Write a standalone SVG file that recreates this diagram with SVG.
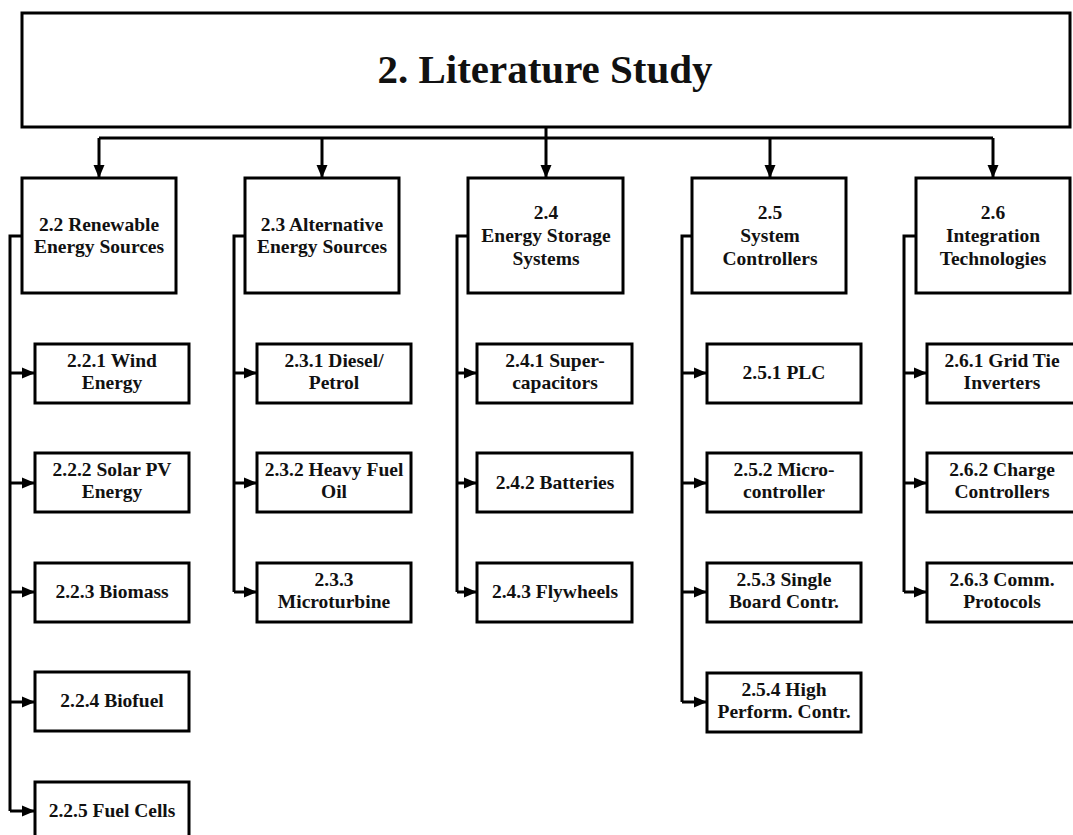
<svg xmlns="http://www.w3.org/2000/svg" width="1073" height="835" viewBox="0 0 1073 835">
<style>
.box{fill:#fff;stroke:#000;stroke-width:3}
.ln{fill:none;stroke:#000;stroke-width:3}
text{font-family:"Liberation Serif","Times New Roman",serif;font-weight:bold;fill:#111;text-anchor:middle}
.t{font-size:19.5px}
.title{font-size:41px}
</style>
<defs>
<marker id="ah" markerUnits="userSpaceOnUse" markerWidth="13" markerHeight="12" viewBox="0 0 13 12" refX="13" refY="6" orient="auto">
<path d="M0,0.5 L13,6 L0,11.5 Z" fill="#000"/>
</marker>
</defs>
<rect width="1073" height="835" fill="#fff"/>
<g id="connectors">
<path class="ln" d="M546,127 V138 M99,138 H993"/>
<path class="ln" d="M99,138 V178" marker-end="url(#ah)"/>
<path class="ln" d="M322,138 V178" marker-end="url(#ah)"/>
<path class="ln" d="M546,138 V178" marker-end="url(#ah)"/>
<path class="ln" d="M770,138 V178" marker-end="url(#ah)"/>
<path class="ln" d="M993,138 V178" marker-end="url(#ah)"/>
<path class="ln" d="M22,236 H10 V811"/>
<path class="ln" d="M10,373 H35" marker-end="url(#ah)"/>
<path class="ln" d="M10,483 H35" marker-end="url(#ah)"/>
<path class="ln" d="M10,592 H35" marker-end="url(#ah)"/>
<path class="ln" d="M10,702 H35" marker-end="url(#ah)"/>
<path class="ln" d="M10,811 H35" marker-end="url(#ah)"/>
<path class="ln" d="M245,236 H234 V592"/>
<path class="ln" d="M234,373 H257" marker-end="url(#ah)"/>
<path class="ln" d="M234,483 H257" marker-end="url(#ah)"/>
<path class="ln" d="M234,592 H257" marker-end="url(#ah)"/>
<path class="ln" d="M468,236 H457 V592"/>
<path class="ln" d="M457,373 H477" marker-end="url(#ah)"/>
<path class="ln" d="M457,483 H477" marker-end="url(#ah)"/>
<path class="ln" d="M457,592 H477" marker-end="url(#ah)"/>
<path class="ln" d="M692,236 H682 V702"/>
<path class="ln" d="M682,373 H707" marker-end="url(#ah)"/>
<path class="ln" d="M682,483 H707" marker-end="url(#ah)"/>
<path class="ln" d="M682,592 H707" marker-end="url(#ah)"/>
<path class="ln" d="M682,702 H707" marker-end="url(#ah)"/>
<path class="ln" d="M916,236 H904 V592"/>
<path class="ln" d="M904,373 H927" marker-end="url(#ah)"/>
<path class="ln" d="M904,483 H927" marker-end="url(#ah)"/>
<path class="ln" d="M904,592 H927" marker-end="url(#ah)"/>
</g>
<g id="n_root"><rect class="box" x="22" y="13" width="1048" height="114"/><text class="title" x="545" y="83">2. Literature Study</text></g>
<g id="n_2_2"><rect class="box" x="22" y="178" width="154" height="115"/><text class="t" x="99" y="231">2.2 Renewable</text><text class="t" x="99" y="253">Energy Sources</text></g>
<g id="n_2_3"><rect class="box" x="245" y="178" width="154" height="115"/><text class="t" x="322" y="231">2.3 Alternative</text><text class="t" x="322" y="253">Energy Sources</text></g>
<g id="n_2_4"><rect class="box" x="468" y="178" width="155" height="115"/><text class="t" x="546" y="219">2.4</text><text class="t" x="546" y="242">Energy Storage</text><text class="t" x="546" y="265">Systems</text></g>
<g id="n_2_5"><rect class="box" x="692" y="178" width="154" height="115"/><text class="t" x="770" y="219">2.5</text><text class="t" x="770" y="242">System</text><text class="t" x="770" y="265">Controllers</text></g>
<g id="n_2_6"><rect class="box" x="916" y="178" width="154" height="115"/><text class="t" x="993" y="219">2.6</text><text class="t" x="993" y="242">Integration</text><text class="t" x="993" y="265">Technologies</text></g>
<g id="n_2_2_1"><rect class="box" x="35" y="344" width="154" height="59"/><text class="t" x="112" y="367">2.2.1 Wind</text><text class="t" x="112" y="389">Energy</text></g>
<g id="n_2_2_2"><rect class="box" x="35" y="453" width="154" height="59"/><text class="t" x="112" y="476">2.2.2 Solar PV</text><text class="t" x="112" y="498">Energy</text></g>
<g id="n_2_2_3"><rect class="box" x="35" y="563" width="154" height="59"/><text class="t" x="112" y="598">2.2.3 Biomass</text></g>
<g id="n_2_2_4"><rect class="box" x="35" y="672" width="154" height="59"/><text class="t" x="112" y="707">2.2.4 Biofuel</text></g>
<g id="n_2_2_5"><rect class="box" x="35" y="782" width="154" height="59"/><text class="t" x="112" y="817">2.2.5 Fuel Cells</text></g>
<g id="n_2_3_1"><rect class="box" x="257" y="344" width="154" height="59"/><text class="t" x="334" y="367">2.3.1 Diesel/</text><text class="t" x="334" y="389">Petrol</text></g>
<g id="n_2_3_2"><rect class="box" x="257" y="453" width="154" height="59"/><text class="t" x="334" y="476">2.3.2 Heavy Fuel</text><text class="t" x="334" y="498">Oil</text></g>
<g id="n_2_3_3"><rect class="box" x="257" y="563" width="154" height="59"/><text class="t" x="334" y="586">2.3.3</text><text class="t" x="334" y="608">Microturbine</text></g>
<g id="n_2_4_1"><rect class="box" x="477" y="344" width="155" height="59"/><text class="t" x="555" y="367">2.4.1 Super-</text><text class="t" x="555" y="389">capacitors</text></g>
<g id="n_2_4_2"><rect class="box" x="477" y="453" width="155" height="59"/><text class="t" x="555" y="489">2.4.2 Batteries</text></g>
<g id="n_2_4_3"><rect class="box" x="477" y="563" width="155" height="59"/><text class="t" x="555" y="598">2.4.3 Flywheels</text></g>
<g id="n_2_5_1"><rect class="box" x="707" y="344" width="154" height="59"/><text class="t" x="784" y="379">2.5.1 PLC</text></g>
<g id="n_2_5_2"><rect class="box" x="707" y="453" width="154" height="59"/><text class="t" x="784" y="476">2.5.2 Micro-</text><text class="t" x="784" y="498">controller</text></g>
<g id="n_2_5_3"><rect class="box" x="707" y="563" width="154" height="59"/><text class="t" x="784" y="586">2.5.3 Single</text><text class="t" x="784" y="608">Board Contr.</text></g>
<g id="n_2_5_4"><rect class="box" x="707" y="673" width="154" height="59"/><text class="t" x="784" y="696">2.5.4 High</text><text class="t" x="784" y="718">Perform. Contr.</text></g>
<g id="n_2_6_1"><rect class="box" x="927" y="344" width="154" height="59"/><text class="t" x="1002" y="367">2.6.1 Grid Tie</text><text class="t" x="1002" y="389">Inverters</text></g>
<g id="n_2_6_2"><rect class="box" x="927" y="453" width="154" height="59"/><text class="t" x="1002" y="476">2.6.2 Charge</text><text class="t" x="1002" y="498">Controllers</text></g>
<g id="n_2_6_3"><rect class="box" x="927" y="563" width="154" height="59"/><text class="t" x="1002" y="586">2.6.3 Comm.</text><text class="t" x="1002" y="608">Protocols</text></g>
</svg>
